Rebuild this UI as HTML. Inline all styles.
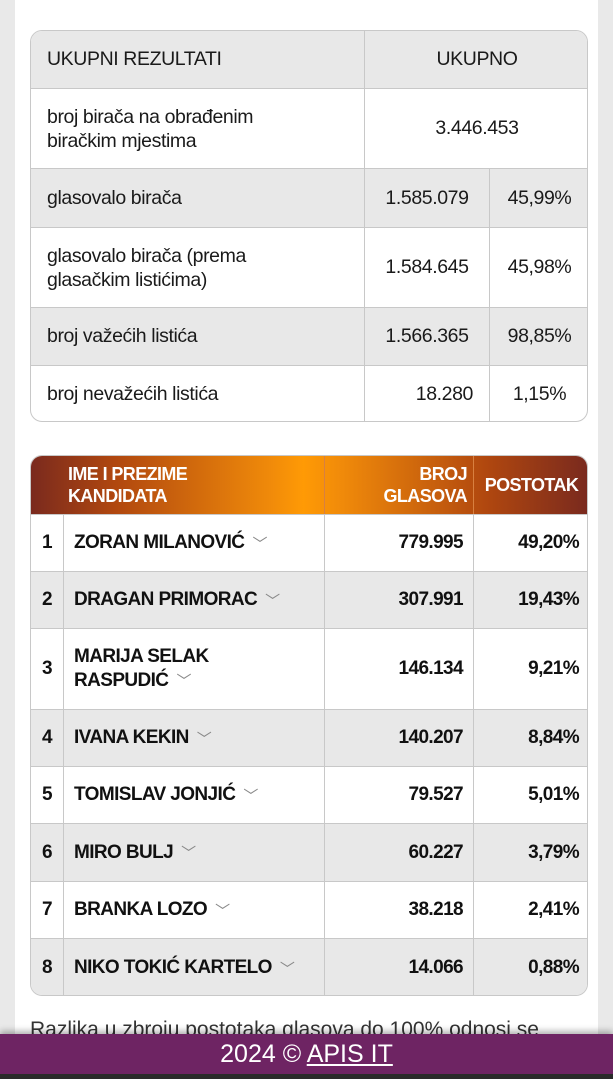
<!DOCTYPE html>
<html><head><meta charset="utf-8"><style>
*{margin:0;padding:0;box-sizing:border-box}
body{width:613px;height:1079px;overflow:hidden;background:#e9e9e9;font-family:"Liberation Sans",sans-serif;color:#1a1a1a;position:relative}
.page{position:absolute;left:15px;top:0;width:583px;height:1079px;background:#fff}
.t{position:absolute;border:1px solid #c8c8c8;border-radius:12px;overflow:hidden;background:#fff}
.r{position:absolute;left:0;width:100%;border-top:1px solid #c8c8c8}
.c{position:absolute;top:0;height:100%;display:flex;align-items:center;border-left:1px solid #c8c8c8}
.g{background:#e8e8e8}
.t1 .c{font-size:19.5px;letter-spacing:-0.4px}
.t2 .c{font-size:19px;font-weight:bold;letter-spacing:-0.6px;color:#111}
.ch{font-weight:normal;color:#888;font-size:15px;margin-left:8px}
.hd{background:linear-gradient(90deg,#7a2a1e 0%,#b0470f 15%,#f08a0a 43%,#ff9a05 49%,#f08a0a 56%,#b0470f 82%,#7a2a1e 100%);color:#fff}
.hd .c{color:#fff;font-size:18px;line-height:22px;border-left:1px solid #d88040}
</style></head><body>
<div class="page"></div>
<div class="t t1" style="left:30px;top:30px;width:558px;height:392px">
 <div class="r g" style="top:0;height:57px;border-top:none">
  <div class="c" style="left:0;width:333px;padding-left:16px;border-left:none">UKUPNI REZULTATI</div>
  <div class="c" style="left:333px;width:225px;justify-content:center">UKUPNO</div></div>
 <div class="r" style="top:57px;height:80px">
  <div class="c" style="left:0;width:333px;padding-left:16px;border-left:none;line-height:24px">broj birača na obrađenim<br>biračkim mjestima</div>
  <div class="c" style="left:333px;width:225px;justify-content:center">3.446.453</div></div>
 <div class="r g" style="top:137px;height:59px">
  <div class="c" style="left:0;width:333px;padding-left:16px;border-left:none">glasovalo birača</div>
  <div class="c" style="left:333px;width:125px;justify-content:center">1.585.079</div>
  <div class="c" style="left:458px;width:100px;justify-content:center">45,99%</div></div>
 <div class="r" style="top:196px;height:80px">
  <div class="c" style="left:0;width:333px;padding-left:16px;border-left:none;line-height:24px">glasovalo birača (prema<br>glasačkim listićima)</div>
  <div class="c" style="left:333px;width:125px;justify-content:center">1.584.645</div>
  <div class="c" style="left:458px;width:100px;justify-content:center">45,98%</div></div>
 <div class="r g" style="top:276px;height:58px">
  <div class="c" style="left:0;width:333px;padding-left:16px;border-left:none">broj važećih listića</div>
  <div class="c" style="left:333px;width:125px;justify-content:center">1.566.365</div>
  <div class="c" style="left:458px;width:100px;justify-content:center">98,85%</div></div>
 <div class="r" style="top:334px;height:58px">
  <div class="c" style="left:0;width:333px;padding-left:16px;border-left:none">broj nevažećih listića</div>
  <div class="c" style="left:333px;width:125px;justify-content:flex-end;padding-right:16px">18.280</div>
  <div class="c" style="left:458px;width:100px;justify-content:center">1,15%</div></div>
</div>

<div class="t t2" style="left:30px;top:455px;width:558px;height:541px">
 <div class="r hd" style="top:0;height:58px;border-top:none">
  <div class="c" style="left:32px;width:261px;padding-left:5px;border-left:none">IME I PREZIME<br>KANDIDATA</div>
  <div class="c" style="left:293px;width:149px;justify-content:flex-end;text-align:right;padding-right:6px">BROJ<br>GLASOVA</div>
  <div class="c" style="left:442px;width:116px;justify-content:center">POSTOTAK</div></div>
 <div class="r" style="top:58px;height:57px"><div class="c" style="left:0;width:32px;justify-content:center;border-left:none">1</div><div class="c" style="left:32px;width:261px;padding-left:10px">ZORAN MILANOVIĆ<span class="ch">﹀</span></div><div class="c" style="left:293px;width:149px;justify-content:flex-end;padding-right:10px">779.995</div><div class="c" style="left:442px;width:116px;justify-content:flex-end;padding-right:10px">49,20%</div></div>
 <div class="r g" style="top:115px;height:57px"><div class="c" style="left:0;width:32px;justify-content:center;border-left:none">2</div><div class="c" style="left:32px;width:261px;padding-left:10px">DRAGAN PRIMORAC<span class="ch">﹀</span></div><div class="c" style="left:293px;width:149px;justify-content:flex-end;padding-right:10px">307.991</div><div class="c" style="left:442px;width:116px;justify-content:flex-end;padding-right:10px">19,43%</div></div>
 <div class="r" style="top:172px;height:81px"><div class="c" style="left:0;width:32px;justify-content:center;border-left:none">3</div><div class="c" style="left:32px;width:261px;padding-left:10px"><div style="line-height:24px">MARIJA SELAK<br>RASPUDIĆ<span class="ch">﹀</span></div></div><div class="c" style="left:293px;width:149px;justify-content:flex-end;padding-right:10px">146.134</div><div class="c" style="left:442px;width:116px;justify-content:flex-end;padding-right:10px">9,21%</div></div>
 <div class="r g" style="top:253px;height:57px"><div class="c" style="left:0;width:32px;justify-content:center;border-left:none">4</div><div class="c" style="left:32px;width:261px;padding-left:10px">IVANA KEKIN<span class="ch">﹀</span></div><div class="c" style="left:293px;width:149px;justify-content:flex-end;padding-right:10px">140.207</div><div class="c" style="left:442px;width:116px;justify-content:flex-end;padding-right:10px">8,84%</div></div>
 <div class="r" style="top:310px;height:57px"><div class="c" style="left:0;width:32px;justify-content:center;border-left:none">5</div><div class="c" style="left:32px;width:261px;padding-left:10px">TOMISLAV JONJIĆ<span class="ch">﹀</span></div><div class="c" style="left:293px;width:149px;justify-content:flex-end;padding-right:10px">79.527</div><div class="c" style="left:442px;width:116px;justify-content:flex-end;padding-right:10px">5,01%</div></div>
 <div class="r g" style="top:367px;height:58px"><div class="c" style="left:0;width:32px;justify-content:center;border-left:none">6</div><div class="c" style="left:32px;width:261px;padding-left:10px">MIRO BULJ<span class="ch">﹀</span></div><div class="c" style="left:293px;width:149px;justify-content:flex-end;padding-right:10px">60.227</div><div class="c" style="left:442px;width:116px;justify-content:flex-end;padding-right:10px">3,79%</div></div>
 <div class="r" style="top:425px;height:57px"><div class="c" style="left:0;width:32px;justify-content:center;border-left:none">7</div><div class="c" style="left:32px;width:261px;padding-left:10px">BRANKA LOZO<span class="ch">﹀</span></div><div class="c" style="left:293px;width:149px;justify-content:flex-end;padding-right:10px">38.218</div><div class="c" style="left:442px;width:116px;justify-content:flex-end;padding-right:10px">2,41%</div></div>
 <div class="r g" style="top:482px;height:59px"><div class="c" style="left:0;width:32px;justify-content:center;border-left:none">8</div><div class="c" style="left:32px;width:261px;padding-left:10px">NIKO TOKIĆ KARTELO<span class="ch">﹀</span></div><div class="c" style="left:293px;width:149px;justify-content:flex-end;padding-right:10px">14.066</div><div class="c" style="left:442px;width:116px;justify-content:flex-end;padding-right:10px">0,88%</div></div>
</div>

<div style="position:absolute;left:30px;top:1018px;font-size:21px;color:#333;white-space:nowrap">Razlika u zbroju postotaka glasova do 100% odnosi se</div>
<div style="position:absolute;left:0;top:1034px;width:613px;height:40px;background:#6e2463;color:#fff;font-size:25px;text-align:center;line-height:40px;box-shadow:0 -3px 6px rgba(0,0,0,.3)">2024 © <span style="text-decoration:underline">APIS IT</span></div>
<div style="position:absolute;left:0;top:1074px;width:613px;height:5px;background:#2a2a2a"></div>
</body></html>
